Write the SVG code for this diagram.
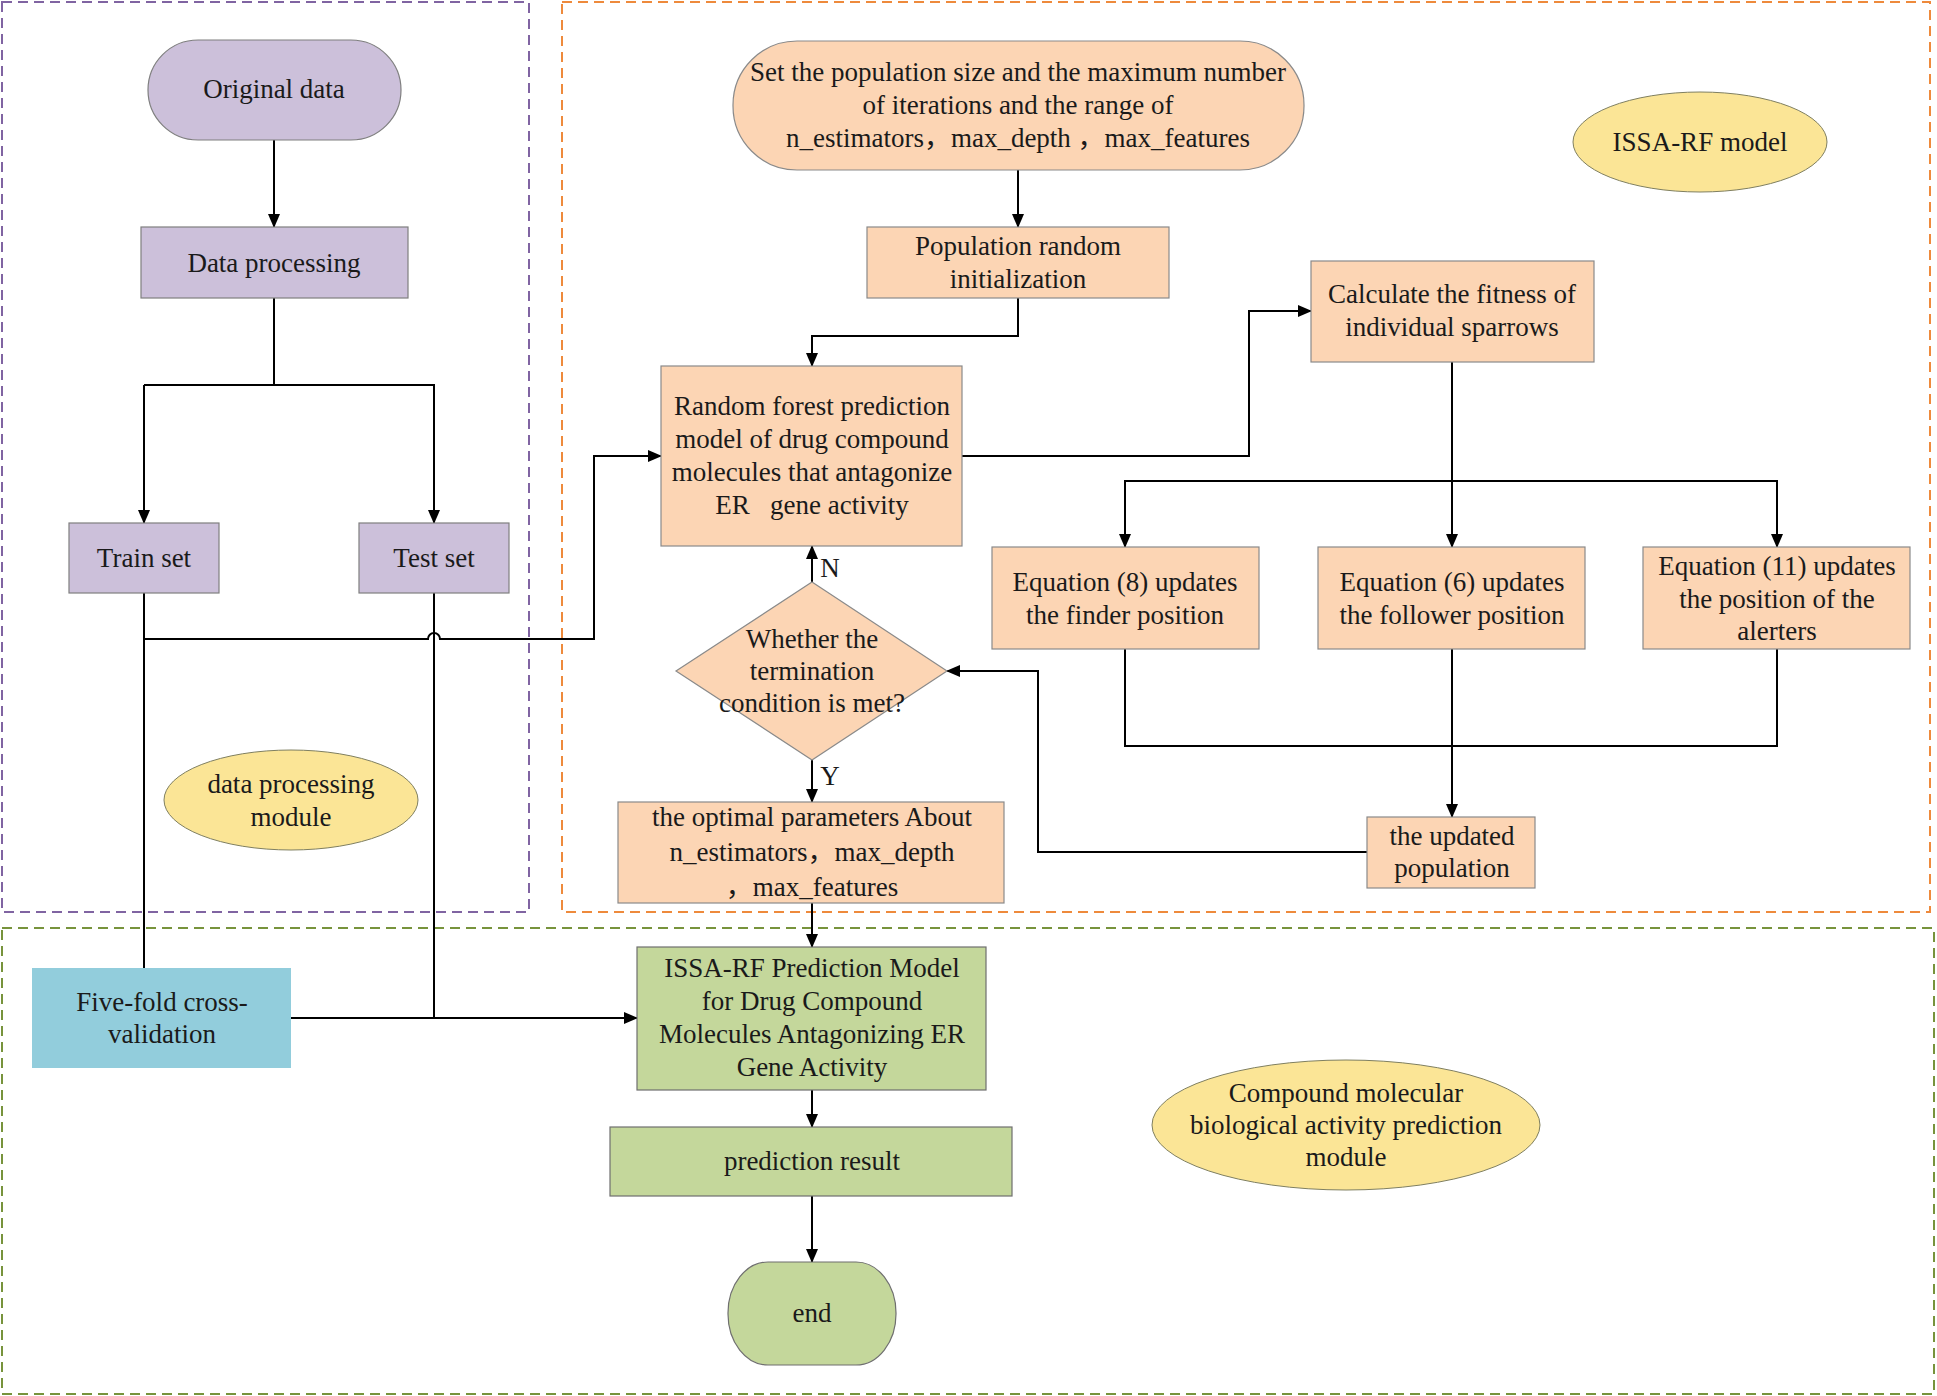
<svg xmlns="http://www.w3.org/2000/svg" width="1937" height="1396" viewBox="0 0 1937 1396">
<defs>
<marker id="arr" markerUnits="userSpaceOnUse" markerWidth="14" markerHeight="12" refX="13" refY="6" orient="auto">
<path d="M0,0 L14,6 L0,12 Z" fill="#000"/>
</marker>
<style>
text{font-family:'Liberation Serif','Times New Roman',serif;font-size:27px;fill:#1a1a1a;text-anchor:middle}
text.cjk{font-family:'Liberation Serif','Noto Sans CJK SC',serif}
.frame{fill:none;stroke-width:2;stroke-dasharray:10 6}
.pu{fill:#CCC0DA;stroke:#7f7f7f;stroke-width:1.2}
.or{fill:#FCD5B4;stroke:#8a8a8a;stroke-width:1.2}
.gr{fill:#C4D79B;stroke:#6f6f6f;stroke-width:1.2}
.bl{fill:#92CDDC;stroke:none}
.ye{fill:#FBE596;stroke:#7f7f60;stroke-width:1}
.c{fill:none;stroke:#000;stroke-width:2}
.ca{fill:none;stroke:#000;stroke-width:2;marker-end:url(#arr)}
</style>
</defs>
<rect width="1937" height="1396" fill="#fff"/>
<g id="frames">
<rect class="frame" x="2" y="2" width="527" height="910" stroke="#8064A2"/>
<rect class="frame" x="562" y="2" width="1368" height="910" stroke="#EE8A3C"/>
<rect class="frame" x="2" y="928" width="1932" height="466" stroke="#77933C"/>
</g>
<g id="connectors">
<path class="ca" d="M274,140 V227"/>
<path class="c" d="M274,298 V385"/>
<path class="ca" d="M144,385 H434 V523"/>
<path class="ca" d="M144,385 V523"/>
<path class="c" d="M144,593 V968"/>
<path class="ca" d="M144,639 H428 A6,6 0 0 1 440,639 H594 V456 H661"/>
<path class="c" d="M434,593 V1018"/>
<path class="ca" d="M291,1018 H637"/>
<path class="ca" d="M1018,170 V227"/>
<path class="ca" d="M1018,298 V336 H812 V366"/>
<path class="ca" d="M962,456 H1249 V311 H1311"/>
<path class="ca" d="M1452,362 V547"/>
<path class="ca" d="M1452,481 H1125 V547"/>
<path class="ca" d="M1452,481 H1777 V547"/>
<path class="c" d="M1125,649 V746 H1777 V649"/>
<path class="ca" d="M1452,649 V817"/>
<path class="ca" d="M1367,852 H1038 V671 H947"/>
<path class="ca" d="M812,582 V546"/>
<path class="ca" d="M812,760 V802"/>
<path class="ca" d="M812,903 V947"/>
<path class="ca" d="M812,1090 V1127"/>
<path class="ca" d="M812,1196 V1262"/>
<text x="830" y="577">N</text>
<text x="830" y="785">Y</text>
</g>
<g id="original-data">
<rect class="pu" x="148" y="40" width="253" height="100" rx="50" ry="50"/>
<text x="274" y="98">Original data</text>
</g>
<g id="data-processing">
<rect class="pu" x="141" y="227" width="267" height="71"/>
<text x="274" y="272">Data processing</text>
</g>
<g id="train-set">
<rect class="pu" x="69" y="523" width="150" height="70"/>
<text x="144" y="567">Train set</text>
</g>
<g id="test-set">
<rect class="pu" x="359" y="523" width="150" height="70"/>
<text x="434" y="567">Test set</text>
</g>
<g id="data-processing-module">
<ellipse class="ye" cx="291" cy="800" rx="127" ry="50"/>
<text x="291" y="793">data processing</text>
<text x="291" y="826">module</text>
</g>
<g id="set-population">
<rect class="or" x="733" y="41" width="571" height="129" rx="64" ry="64"/>
<text x="1018" y="81">Set the population size and the maximum number</text>
<text x="1018" y="114">of iterations and the range of</text>
<text class="cjk" x="1018" y="147">n_estimators，max_depth ，max_features</text>
</g>
<g id="population-init">
<rect class="or" x="867" y="227" width="302" height="71"/>
<text x="1018" y="255">Population random</text>
<text x="1018" y="288">initialization</text>
</g>
<g id="issa-rf-model">
<ellipse class="ye" cx="1700" cy="142" rx="127" ry="50"/>
<text x="1700" y="151">ISSA-RF model</text>
</g>
<g id="random-forest">
<rect class="or" x="661" y="366" width="301" height="180"/>
<text x="812" y="415">Random forest prediction</text>
<text x="812" y="448">model of drug compound</text>
<text x="812" y="481">molecules that antagonize</text>
<text x="812" y="514" style="white-space:pre">ER   gene activity</text>
</g>
<g id="calc-fitness">
<rect class="or" x="1311" y="261" width="283" height="101"/>
<text x="1452" y="303">Calculate the fitness of</text>
<text x="1452" y="336">individual sparrows</text>
</g>
<g id="termination">
<path class="or" d="M812,582 L947,671 L812,760 L676,671 Z"/>
<text x="812" y="648">Whether the</text>
<text x="812" y="680">termination</text>
<text x="812" y="712">condition is met?</text>
</g>
<g id="eq8">
<rect class="or" x="992" y="547" width="267" height="102"/>
<text x="1125" y="591">Equation (8) updates</text>
<text x="1125" y="624">the finder position</text>
</g>
<g id="eq6">
<rect class="or" x="1318" y="547" width="267" height="102"/>
<text x="1452" y="591">Equation (6) updates</text>
<text x="1452" y="624">the follower position</text>
</g>
<g id="eq11">
<rect class="or" x="1643" y="547" width="267" height="102"/>
<text x="1777" y="575">Equation (11) updates</text>
<text x="1777" y="608">the position of the</text>
<text x="1777" y="640">alerters</text>
</g>
<g id="optimal-params">
<rect class="or" x="618" y="802" width="386" height="101"/>
<text x="812" y="826">the optimal parameters About</text>
<text class="cjk" x="812" y="861">n_estimators，max_depth</text>
<text class="cjk" x="812" y="896">，max_features</text>
</g>
<g id="updated-population">
<rect class="or" x="1367" y="817" width="168" height="71"/>
<text x="1452" y="845">the updated</text>
<text x="1452" y="877">population</text>
</g>
<g id="five-fold">
<rect class="bl" x="32" y="968" width="259" height="100"/>
<text x="162" y="1011">Five-fold cross-</text>
<text x="162" y="1043">validation</text>
</g>
<g id="issa-rf-prediction">
<rect class="gr" x="637" y="947" width="349" height="143"/>
<text x="812" y="977">ISSA-RF Prediction Model</text>
<text x="812" y="1010">for Drug Compound</text>
<text x="812" y="1043">Molecules Antagonizing ER</text>
<text x="812" y="1076">Gene Activity</text>
</g>
<g id="prediction-result">
<rect class="gr" x="610" y="1127" width="402" height="69"/>
<text x="812" y="1170">prediction result</text>
</g>
<g id="end">
<rect class="gr" x="728" y="1262" width="168" height="103" rx="40" ry="51"/>
<text x="812" y="1322">end</text>
</g>
<g id="compound-module">
<ellipse class="ye" cx="1346" cy="1125" rx="194" ry="65"/>
<text x="1346" y="1102">Compound molecular</text>
<text x="1346" y="1134">biological activity prediction</text>
<text x="1346" y="1166">module</text>
</g>
</svg>
